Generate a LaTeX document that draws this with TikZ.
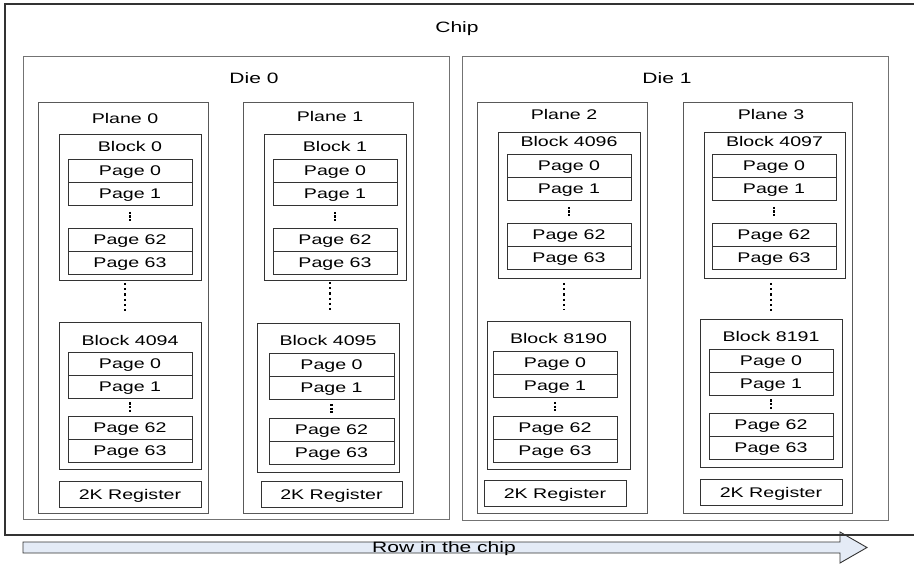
\documentclass[tikz,border=0pt]{standalone}
\usepackage{fontspec}
\newfontfamily\diagfont[FakeStretch=1.4]{Liberation Sans}
\definecolor{arrowfill}{RGB}{228,235,246}
\tikzset{
  lbl/.style={font=\diagfont\fontsize{14}{16}\selectfont, inner sep=0pt, text height=10pt, text depth=0pt},
  biglbl/.style={font=\diagfont\fontsize{15}{17}\selectfont, inner sep=0pt, text height=10.7pt, text depth=0pt},
  chipline/.style={draw=black!80, line width=1.6pt},
  dieline/.style={draw=black!55, line width=0.9pt},
  planeline/.style={draw=black!65, line width=0.9pt},
  blockline/.style={draw=black!80, line width=0.9pt},
  dotcol/.style={line width=2.2pt, dash pattern=on 2.2pt off 1.4pt},
  longdots/.style={line width=2.2pt, dash pattern=on 2.2pt off 3pt}
}
\begin{document}
\begin{tikzpicture}[x=1pt, y=-1pt]
\clip (0,0) rectangle (914,564);
\fill[white] (0,0) rectangle (914,564);

\draw[black!80, line width=0.9pt, fill=arrowfill]
      (23,542) -- (840,542) -- (840,532) -- (867,547.5)
      -- (840,563) -- (840,553) -- (23,553) -- cycle;
\node[biglbl] (row) at (444,547) {Row in the chip};

\draw[chipline] (920,4) -- (5,4) -- (5,535) -- (920,535);
\node[biglbl] (chip) at (457,27) {Chip};

\draw[dieline] (23,56) rectangle (449,519);
\draw[dieline] (462,56) rectangle (888,520);
\node[biglbl] (die0) at (254,78) {Die 0};
\node[biglbl] (die1) at (667,78) {Die 1};

\foreach \nm/\pl/\pr/\px/\py/\dt/\db/\rl/\rr/\rt in {
    0/38/208/125/119/283/313/59/201/481,
    1/243/413/330/117/282/312/261/402/481,
    2/477/647/564/115/283/310/484/626/480,
    3/683/852/771/115/283/313/700/842/479}{
  \draw[planeline] (\pl,102) rectangle (\pr,513);
  \node[lbl] (plane\nm) at (\px,\py) {Plane \nm};
  \draw[longdots] (\px,\dt) -- (\px,\db);
  \draw[blockline] (\rl,\rt) rectangle (\rr,{\rt+26});
  \node[lbl] (reg\nm) at ({(\rl+\rr)/2},{\rt+13}) {2K Register};
}

\foreach \nm/\bl/\br/\bt/\bb/\pl/\pr/\pa/\pb in {
    0/59/201/134/280/68/192/159/228,
    1/264/406/134/280/273/397/159/228,
    4096/498/640/132/278/507/631/154/223,
    4097/704/845/132/278/712/836/154/223,
    4094/59/201/322/469/68/192/352/416,
    4095/257/399/323/472/269/394/353/418,
    8190/487/630/321/469/493/617/351/416,
    8191/700/842/319/467/709/833/349/413}{
  \pgfmathsetmacro\cx{(\pl+\pr)/2}
  \pgfmathsetmacro\dy{(\pa+46+\pb)/2}
  \draw[blockline] (\bl,\bt) rectangle (\br,\bb);
  \node[lbl] (blk\nm) at ({(\bl+\br)/2},{\pa-12}) {Block \nm};
  \draw[blockline] (\pl,\pa) rectangle (\pr,{\pa+46});
  \draw[blockline] (\pl,{\pa+23}) -- (\pr,{\pa+23});
  \draw[blockline] (\pl,\pb) rectangle (\pr,{\pb+46});
  \draw[blockline] (\pl,{\pb+23}) -- (\pr,{\pb+23});
  \node[lbl] (pg0-\nm) at (\cx,{\pa+11.5}) {Page 0};
  \node[lbl] (pg1-\nm) at (\cx,{\pa+34.5}) {Page 1};
  \node[lbl] (pg62-\nm) at (\cx,{\pb+11.5}) {Page 62};
  \node[lbl] (pg63-\nm) at (\cx,{\pb+34.5}) {Page 63};
  \draw[dotcol] (\cx,{\dy-4.6}) -- (\cx,{\dy+4.6});
}
\end{tikzpicture}
\end{document}
